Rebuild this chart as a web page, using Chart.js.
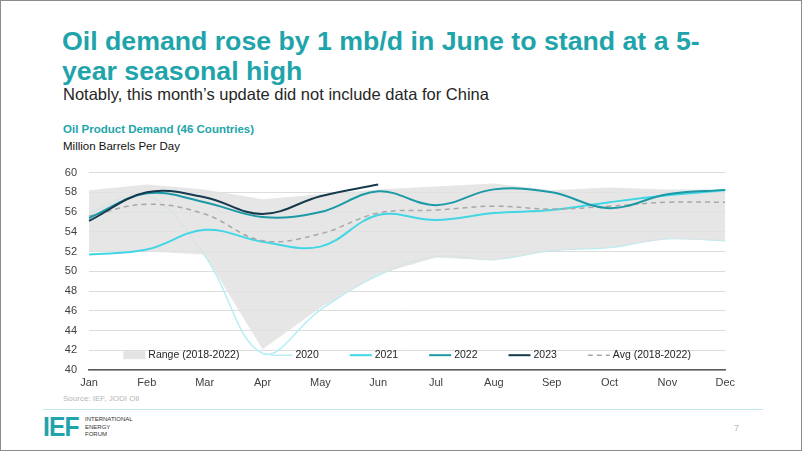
<!DOCTYPE html>
<html>
<head>
<meta charset="utf-8">
<script src="https://cdn.jsdelivr.net/npm/chart.js@4.4.0/dist/chart.umd.min.js"></script>
<style>
    html, body { margin: 0; padding: 0; }
    body {
        width: 802px; height: 451px; position: relative; overflow: hidden;
        background: #fff; font-family: "Liberation Sans", Arial, sans-serif;
        box-sizing: border-box; border: 1px solid #8c8c8c;
    }
    .title { position: absolute; left: 61px; top: 25px; color: #1ea4aa;
        font-size: 26.7px; font-weight: bold; line-height: 30px; white-space: nowrap; }
    .subtitle { position: absolute; left: 62px; top: 84px; color: #262626; font-size: 16.5px; }
    .chart-title { position: absolute; left: 62px; top: 122px; color: #1ea4aa; font-size: 11.5px; font-weight: bold; }
    .chart-unit { position: absolute; left: 62px; top: 139px; color: #111; font-size: 11.5px; }
    .source { position: absolute; left: 62px; top: 393px; color: #b5b5b5; font-size: 8px; }
    .rule { position: absolute; left: 42px; top: 408px; width: 720px; height: 1px; background: #bfe9ec; }
    .logo { position: absolute; left: 42px; top: 412px; color: #1ea4aa; font-size: 28px; font-weight: 900;
        letter-spacing: -1px; line-height: 28px; transform: scaleX(0.88); transform-origin: left top; }
    .logo-text { position: absolute; left: 84px; top: 415px; color: #333; font-size: 6px; line-height: 7.5px; }
    .page { position: absolute; left: 733px; top: 422px; color: #bbb; font-size: 9px; }
    #wrap { position: absolute; left: 40px; top: 153px; width: 700px; height: 239px; }
</style>
</head>
<body>
<div class="title">Oil demand rose by 1 mb/d in June to stand at a 5-<br>year seasonal high</div>
<div class="subtitle">Notably, this month’s update did not include data for China</div>
<div class="chart-title">Oil Product Demand (46 Countries)</div>
<div class="chart-unit">Million Barrels Per Day</div>
<div id="wrap"><canvas id="demandChart"></canvas></div>
<div class="source">Source: IEF, JODI Oil</div>
<div class="rule"></div>
<div class="logo">IEF</div>
<div class="logo-text">INTERNATIONAL<br>ENERGY<br>FORUM</div>
<div class="page">7</div>

<script>
// DATI (mb/d)
const months = ['Jan', 'Feb', 'Mar', 'Apr', 'May', 'Jun', 'Jul', 'Aug', 'Sep', 'Oct', 'Nov', 'Dec'];
const rangeHigh = [58.2, 58.8, 58.3, 57.3, 57.8, 58.3, 58.6, 58.9, 58.2, 58.5, 58.3, 58.3];
const rangeLow  = [52.0, 52.0, 51.7, 42.1, 46.3, 49.7, 51.4, 51.1, 52.1, 52.4, 53.3, 53.1];
const y2020 = [55.9, 57.7, 51.6, 41.7, 46.1, 49.6, 51.5, 51.2, 52.1, 52.4, 53.3, 53.1];
const y2021 = [51.7, 52.2, 54.2, 53.0, 52.5, 55.7, 55.2, 55.9, 56.2, 57.0, 57.7, 58.2];
const y2022 = [55.4, 57.9, 57.0, 55.5, 56.0, 58.1, 56.7, 58.3, 58.0, 56.4, 57.8, 58.25];
const y2023 = [55.1, 58.0, 57.5, 55.8, 57.6, 58.8];
const avg5y = [55.6, 56.8, 55.8, 53.1, 53.8, 55.9, 56.2, 56.6, 56.3, 56.6, 57.0, 57.0];
const yTicks = [40, 42, 44, 46, 48, 50, 52, 54, 56, 58, 60];

const FONT = '"Liberation Sans", Arial, sans-serif';

function lineSet(label, data, color, width, order, extra) {
    return Object.assign({
        label: label, data: data, borderColor: color, backgroundColor: color,
        borderWidth: width, pointRadius: 0, tension: 0.38, fill: false, order: order
    }, extra || {});
}

// Legenda disegnata dentro l'area del grafico
const innerLegend = {
    id: 'innerLegend',
    afterDraw(chart) {
        const ctx = chart.ctx;
        const area = chart.chartArea;
        const items = chart.data.datasets.filter(d => !d.noLegend);
        const sw = 22, gap = 3, space = 31;
        ctx.save();
        ctx.font = '10.5px ' + FONT;
        let total = 0;
        items.forEach((d, i) => {
            total += sw + gap + ctx.measureText(d.label).width + (i < items.length - 1 ? space : 0);
        });
        let x = (area.left + area.right) / 2 - total / 2;
        const y = chart.scales.y.getPixelForValue(41.5);
        items.forEach(d => {
            if (d.isBand) {
                ctx.fillStyle = '#e3e3e3';
                ctx.fillRect(x, y - 4, sw, 8);
            } else {
                ctx.strokeStyle = d.borderColor;
                ctx.lineWidth = d.borderWidth;
                ctx.setLineDash(d.borderDash || []);
                ctx.beginPath();
                ctx.moveTo(x, y);
                ctx.lineTo(x + sw, y);
                ctx.stroke();
                ctx.setLineDash([]);
            }
            x += sw + gap;
            ctx.fillStyle = '#262626';
            ctx.textBaseline = 'middle';
            ctx.fillText(d.label, x, y);
            x += ctx.measureText(d.label).width + space;
        });
        ctx.restore();
    }
};

new Chart(document.getElementById('demandChart').getContext('2d'), {
    type: 'line',
    data: {
        labels: months,
        datasets: [
            lineSet('Range (2018-2022)', rangeHigh, 'rgba(0,0,0,0)', 0, 5,
                { fill: '+1', backgroundColor: 'rgba(226,226,226,0.85)', tension: 0, isBand: true }),
            lineSet('low', rangeLow, 'rgba(0,0,0,0)', 0, 6, { tension: 0, noLegend: true }),
            lineSet('2020', y2020, '#b5eef4', 1.5, 7),
            lineSet('2021', y2021, '#42d6e5', 2, 4),
            lineSet('2022', y2022, '#1b9aa6', 2, 2),
            lineSet('2023', y2023, '#17394d', 2, 1),
            lineSet('Avg (2018-2022)', avg5y, '#a8a8a8', 1.5, 3, { borderDash: [5, 4] })
        ]
    },
    options: {
        responsive: true,
        maintainAspectRatio: false,
        animation: false,
        layout: { padding: { top: 1, right: 15, left: 0, bottom: 0 } },
        plugins: { legend: { display: false }, tooltip: { enabled: false } },
        scales: {
            x: {
                grid: { display: false, drawTicks: false },
                border: { color: '#595959', width: 1.5 },
                ticks: { color: '#404040', font: { family: FONT, size: 11 }, maxRotation: 0, padding: 6 },
                afterFit: s => { s.height = 23; }
            },
            y: {
                min: 40, max: 60,
                afterBuildTicks: s => { s.ticks = yTicks.map(v => ({ value: v })); },
                grid: { color: '#dcdcdc', lineWidth: 1, drawTicks: false },
                border: { display: false },
                ticks: { color: '#404040', font: { family: FONT, size: 11 }, padding: 12 },
                afterFit: s => { s.width = 48; }
            }
        }
    },
    plugins: [innerLegend]
});
</script>
</body>
</html>
